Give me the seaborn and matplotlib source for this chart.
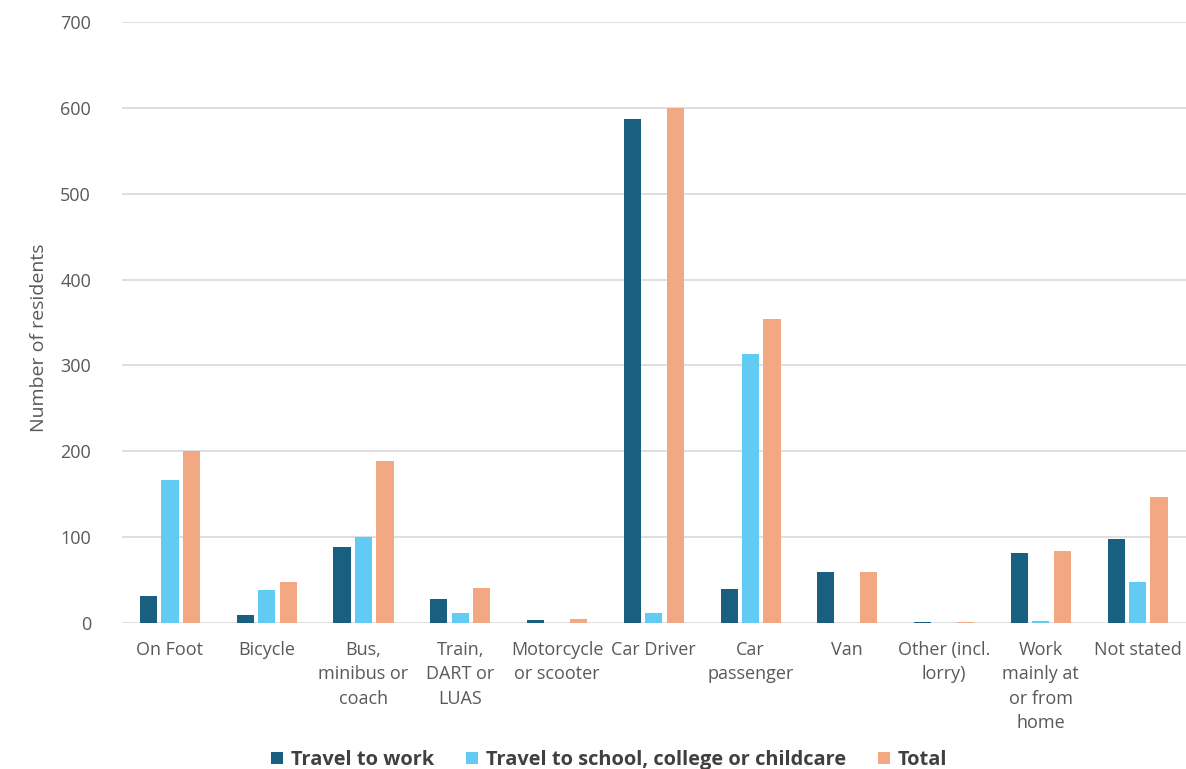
import seaborn as sns
import pandas as pd
import matplotlib.pyplot as plt

categories = ["On Foot", "Bicycle", "Bus,\nminibus or\ncoach", "Train,\nDART or\nLUAS",
              "Motorcycle\nor scooter", "Car Driver", "Car\npassenger", "Van",
              "Other (incl.\nlorry)", "Work\nmainly at\nor from\nhome", "Not stated"]
work = [31, 9, 89, 28, 3, 587, 40, 59, 1.5, 82, 98]
school = [167, 38, 100, 12, 0, 12, 313, 0, 0, 2, 48]
total = [200, 48, 189, 41, 4, 600, 354, 59, 1.5, 84, 147]
series = ["Travel to work", "Travel to school, college or childcare", "Total"]
colors = ["#185F80", "#62CBF3", "#F2A983"]

sns.set_theme(style="white")
plt.rcParams["font.family"] = ["Open Sans", "DejaVu Sans"]

df = pd.DataFrame({"cat": categories * 3,
                   "series": [series[0]] * 11 + [series[1]] * 11 + [series[2]] * 11,
                   "value": work + school + total})

fig, ax = plt.subplots(figsize=(11.86, 7.69), dpi=100)
fig.subplots_adjust(left=0.1025, right=1.0, bottom=0.19, top=0.971)

sns.barplot(data=df, x="cat", y="value", hue="series", palette=colors, ax=ax,
            width=0.665, gap=0.2, saturation=1, linewidth=0)

ax.set_ylim(0, 700)
ax.set_yticks(range(0, 701, 100))
ax.yaxis.grid(True, color="#D9D9D9", linewidth=1.2)
ax.set_axisbelow(True)
for s in ax.spines.values():
    s.set_visible(False)
ax.tick_params(axis="both", length=0, colors="#595959", labelsize=13)
ax.tick_params(axis="y", pad=22)
ax.tick_params(axis="x", pad=13)
plt.setp(ax.get_xticklabels(), linespacing=1.45)
ax.set_xlabel("")
ax.set_ylabel("Number of residents", color="#595959", fontsize=14)
ax.yaxis.set_label_coords(-0.069, 0.474)

ax.legend(loc="lower center", bbox_to_anchor=(0.458, -0.275), ncol=3, frameon=False,
          prop={"weight": "bold", "size": 14.4}, labelcolor="#404040",
          handlelength=0.6, handleheight=0.6, columnspacing=1.6, handletextpad=0.4)

plt.savefig("out.png")
